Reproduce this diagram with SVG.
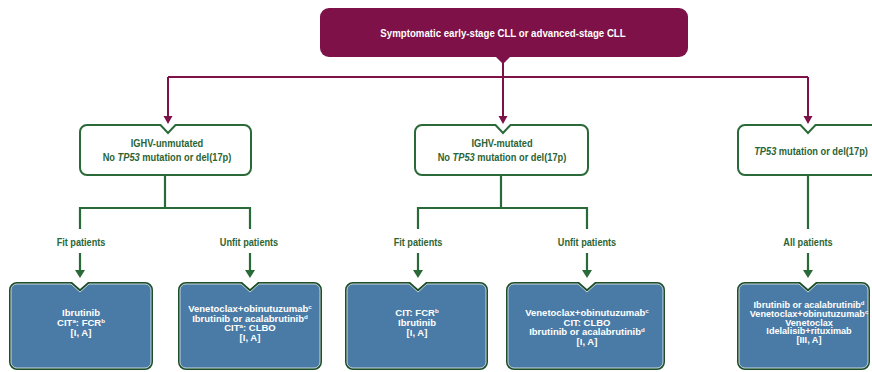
<svg xmlns="http://www.w3.org/2000/svg" width="872" height="372" viewBox="0 0 872 372">
<style>
text{font-family:"Liberation Sans",Arial,sans-serif;font-weight:bold;text-anchor:middle}
.t{fill:#ffffff;font-size:11.8px}
.g{fill:#2b6535;font-size:11.3px}
.w{fill:#ffffff;font-size:9.5px}
.sup{font-size:6.2px}
.gb{fill:#ffffff;stroke:#2a6a38;stroke-width:2}
.bo{fill:#1d4f2a}
.bi{fill:#4a7ba6;stroke:#e8eef0;stroke-width:0.8}
.mc{fill:none;stroke:#7d1148;stroke-width:2}
.ma{fill:#7d1148}
.gc{fill:none;stroke:#2a6a38;stroke-width:2.2}
.ga{fill:#2a6a38}
</style>
<rect width="872" height="372" fill="#ffffff"/>
<g id="connectors">
<path class="mc" d="M503,62 V77 M168,77 H808 M168,77 V117 M503,77 V117 M808,77 V117"/>
<polygon class="ma" points="163.5,116 172.5,116 168,124"/>
<polygon class="ma" points="498.5,116 507.5,116 503,124"/>
<polygon class="ma" points="803.5,116 812.5,116 808,124"/>
<path class="gc" d="M165,175 V208 M80,229 V208 H250 V229 M80,253 V271 M250,253 V271"/>
<path class="gc" d="M501,175 V208 M418,229 V208 H587 V229 M418,253 V271 M587,253 V271"/>
<path class="gc" d="M808,175 V229 M808,253 V271"/>
<polygon class="ga" points="75,270 85,270 80,278"/>
<polygon class="ga" points="245,270 255,270 250,278"/>
<polygon class="ga" points="413,270 423,270 418,278"/>
<polygon class="ga" points="582,270 592,270 587,278"/>
<polygon class="ga" points="803,270 813,270 808,278"/>
<text class="g" transform="translate(81,0) scale(0.81,1)" x="0" y="246">Fit patients</text>
<text class="g" transform="translate(249,0) scale(0.81,1)" x="0" y="246">Unfit patients</text>
<text class="g" transform="translate(418,0) scale(0.81,1)" x="0" y="246">Fit patients</text>
<text class="g" transform="translate(587,0) scale(0.81,1)" x="0" y="246">Unfit patients</text>
<text class="g" transform="translate(808,0) scale(0.81,1)" x="0" y="246">All patients</text>
</g>
<g id="root">
<rect x="320" y="8" width="368" height="49" rx="9" fill="#7d1148"/>
<polygon class="ma" points="495,56 511,56 503,64"/>
<text class="t" transform="translate(503,0) scale(0.82,1)" x="0" y="37">Symptomatic early-stage CLL or advanced-stage CLL</text>
</g>
<g id="ighv-unmutated">
<path class="gb" d="M87,125 H160.5 L168,133 L175.5,125 H244 A7,7 0 0 1 251,132 V168 A7,7 0 0 1 244,175 H87 A7,7 0 0 1 80,168 V132 A7,7 0 0 1 87,125 Z"/>
<g transform="translate(167,0) scale(0.82,1)">
<text class="g" x="0" y="147.3">IGHV-unmutated</text>
<text class="g" x="0" y="161.3">No <tspan font-style="italic">TP53</tspan> mutation or del(17p)</text>
</g>
</g>
<g id="ighv-mutated">
<path class="gb" d="M422,125 H495.5 L503,133 L510.5,125 H581 A7,7 0 0 1 588,132 V168 A7,7 0 0 1 581,175 H422 A7,7 0 0 1 415,168 V132 A7,7 0 0 1 422,125 Z"/>
<g transform="translate(502,0) scale(0.82,1)">
<text class="g" x="0" y="147.3">IGHV-mutated</text>
<text class="g" x="0" y="161.3">No <tspan font-style="italic">TP53</tspan> mutation or del(17p)</text>
</g>
</g>
<g id="tp53">
<path class="gb" d="M745,125 H800.5 L808,133 L815.5,125 H873 A7,7 0 0 1 880,132 V168 A7,7 0 0 1 873,175 H745 A7,7 0 0 1 738,168 V132 A7,7 0 0 1 745,125 Z"/>
<text class="g" transform="translate(811,0) scale(0.82,1)" x="0" y="155.3"><tspan font-style="italic">TP53</tspan> mutation or del(17p)</text>
</g>
<g id="unmut-fit">
<path class="bo" d="M17,282 H72 L80,289 L88,282 H145 A8,8 0 0 1 153,290 V362 A8,8 0 0 1 145,370 H17 A8,8 0 0 1 9,362 V290 A8,8 0 0 1 17,282 Z"/>
<path class="bi" d="M17,284 H71 L80,292 L89,284 H145 A6,6 0 0 1 151,290 V362 A6,6 0 0 1 145,368 H17 A6,6 0 0 1 11,362 V290 A6,6 0 0 1 17,284 Z"/>
<text class="w" x="81" y="316.3">Ibrutinib</text>
<text class="w" x="81" y="326">CIT<tspan class="sup" dy="-3">a</tspan><tspan dy="3">: FCR</tspan><tspan class="sup" dy="-3">b</tspan></text>
<text class="w" x="81" y="335.7">[I, A]</text>
</g>
<g id="unmut-unfit">
<path class="bo" d="M186,282 H242 L250,289 L258,282 H314 A8,8 0 0 1 322,290 V362 A8,8 0 0 1 314,370 H186 A8,8 0 0 1 178,362 V290 A8,8 0 0 1 186,282 Z"/>
<path class="bi" d="M186,284 H241 L250,292 L259,284 H314 A6,6 0 0 1 320,290 V362 A6,6 0 0 1 314,368 H186 A6,6 0 0 1 180,362 V290 A6,6 0 0 1 186,284 Z"/>
<text class="w" x="250" y="312">Venetoclax+obinutuzumab<tspan class="sup" dy="-3">c</tspan></text>
<text class="w" x="250" y="321.6">Ibrutinib or acalabrutinib<tspan class="sup" dy="-3">d</tspan></text>
<text class="w" x="250" y="331.2">CIT<tspan class="sup" dy="-3">a</tspan><tspan dy="3">: CLBO</tspan></text>
<text class="w" x="250" y="340.8">[I, A]</text>
</g>
<g id="mut-fit">
<path class="bo" d="M353,282 H410 L418,289 L426,282 H480 A8,8 0 0 1 488,290 V362 A8,8 0 0 1 480,370 H353 A8,8 0 0 1 345,362 V290 A8,8 0 0 1 353,282 Z"/>
<path class="bi" d="M353,284 H409 L418,292 L427,284 H480 A6,6 0 0 1 486,290 V362 A6,6 0 0 1 480,368 H353 A6,6 0 0 1 347,362 V290 A6,6 0 0 1 353,284 Z"/>
<text class="w" x="417" y="316.3">CIT: FCR<tspan class="sup" dy="-3">b</tspan></text>
<text class="w" x="417" y="326">Ibrutinib</text>
<text class="w" x="417" y="335.7">[I, A]</text>
</g>
<g id="mut-unfit">
<path class="bo" d="M514,282 H579 L587,289 L595,282 H657 A8,8 0 0 1 665,290 V362 A8,8 0 0 1 657,370 H514 A8,8 0 0 1 506,362 V290 A8,8 0 0 1 514,282 Z"/>
<path class="bi" d="M514,284 H578 L587,292 L596,284 H657 A6,6 0 0 1 663,290 V362 A6,6 0 0 1 657,368 H514 A6,6 0 0 1 508,362 V290 A6,6 0 0 1 514,284 Z"/>
<text class="w" x="587" y="316">Venetoclax+obinutuzumab<tspan class="sup" dy="-3">c</tspan></text>
<text class="w" x="587" y="325.6">CIT: CLBO</text>
<text class="w" x="587" y="335.2">Ibrutinib or acalabrutinib<tspan class="sup" dy="-3">d</tspan></text>
<text class="w" x="587" y="344.8">[I, A]</text>
</g>
<g id="tp53-all">
<path class="bo" d="M745,282 H800 L808,289 L816,282 H862 A8,8 0 0 1 870,290 V362 A8,8 0 0 1 862,370 H745 A8,8 0 0 1 737,362 V290 A8,8 0 0 1 745,282 Z"/>
<path class="bi" d="M745,284 H799 L808,292 L817,284 H862 A6,6 0 0 1 868,290 V362 A6,6 0 0 1 862,368 H745 A6,6 0 0 1 739,362 V290 A6,6 0 0 1 745,284 Z"/>
<g transform="translate(809,0) scale(0.96,1)">
<text class="w" x="0" y="308.4">Ibrutinib or acalabrutinib<tspan class="sup" dy="-3">d</tspan></text>
<text class="w" x="0" y="317">Venetoclax+obinutuzumab<tspan class="sup" dy="-3">c</tspan></text>
<text class="w" x="0" y="325.6">Venetoclax</text>
<text class="w" x="0" y="334.3">Idelalisib+rituximab</text>
<text class="w" x="0" y="343">[III, A]</text>
</g>
</g>
</svg>
